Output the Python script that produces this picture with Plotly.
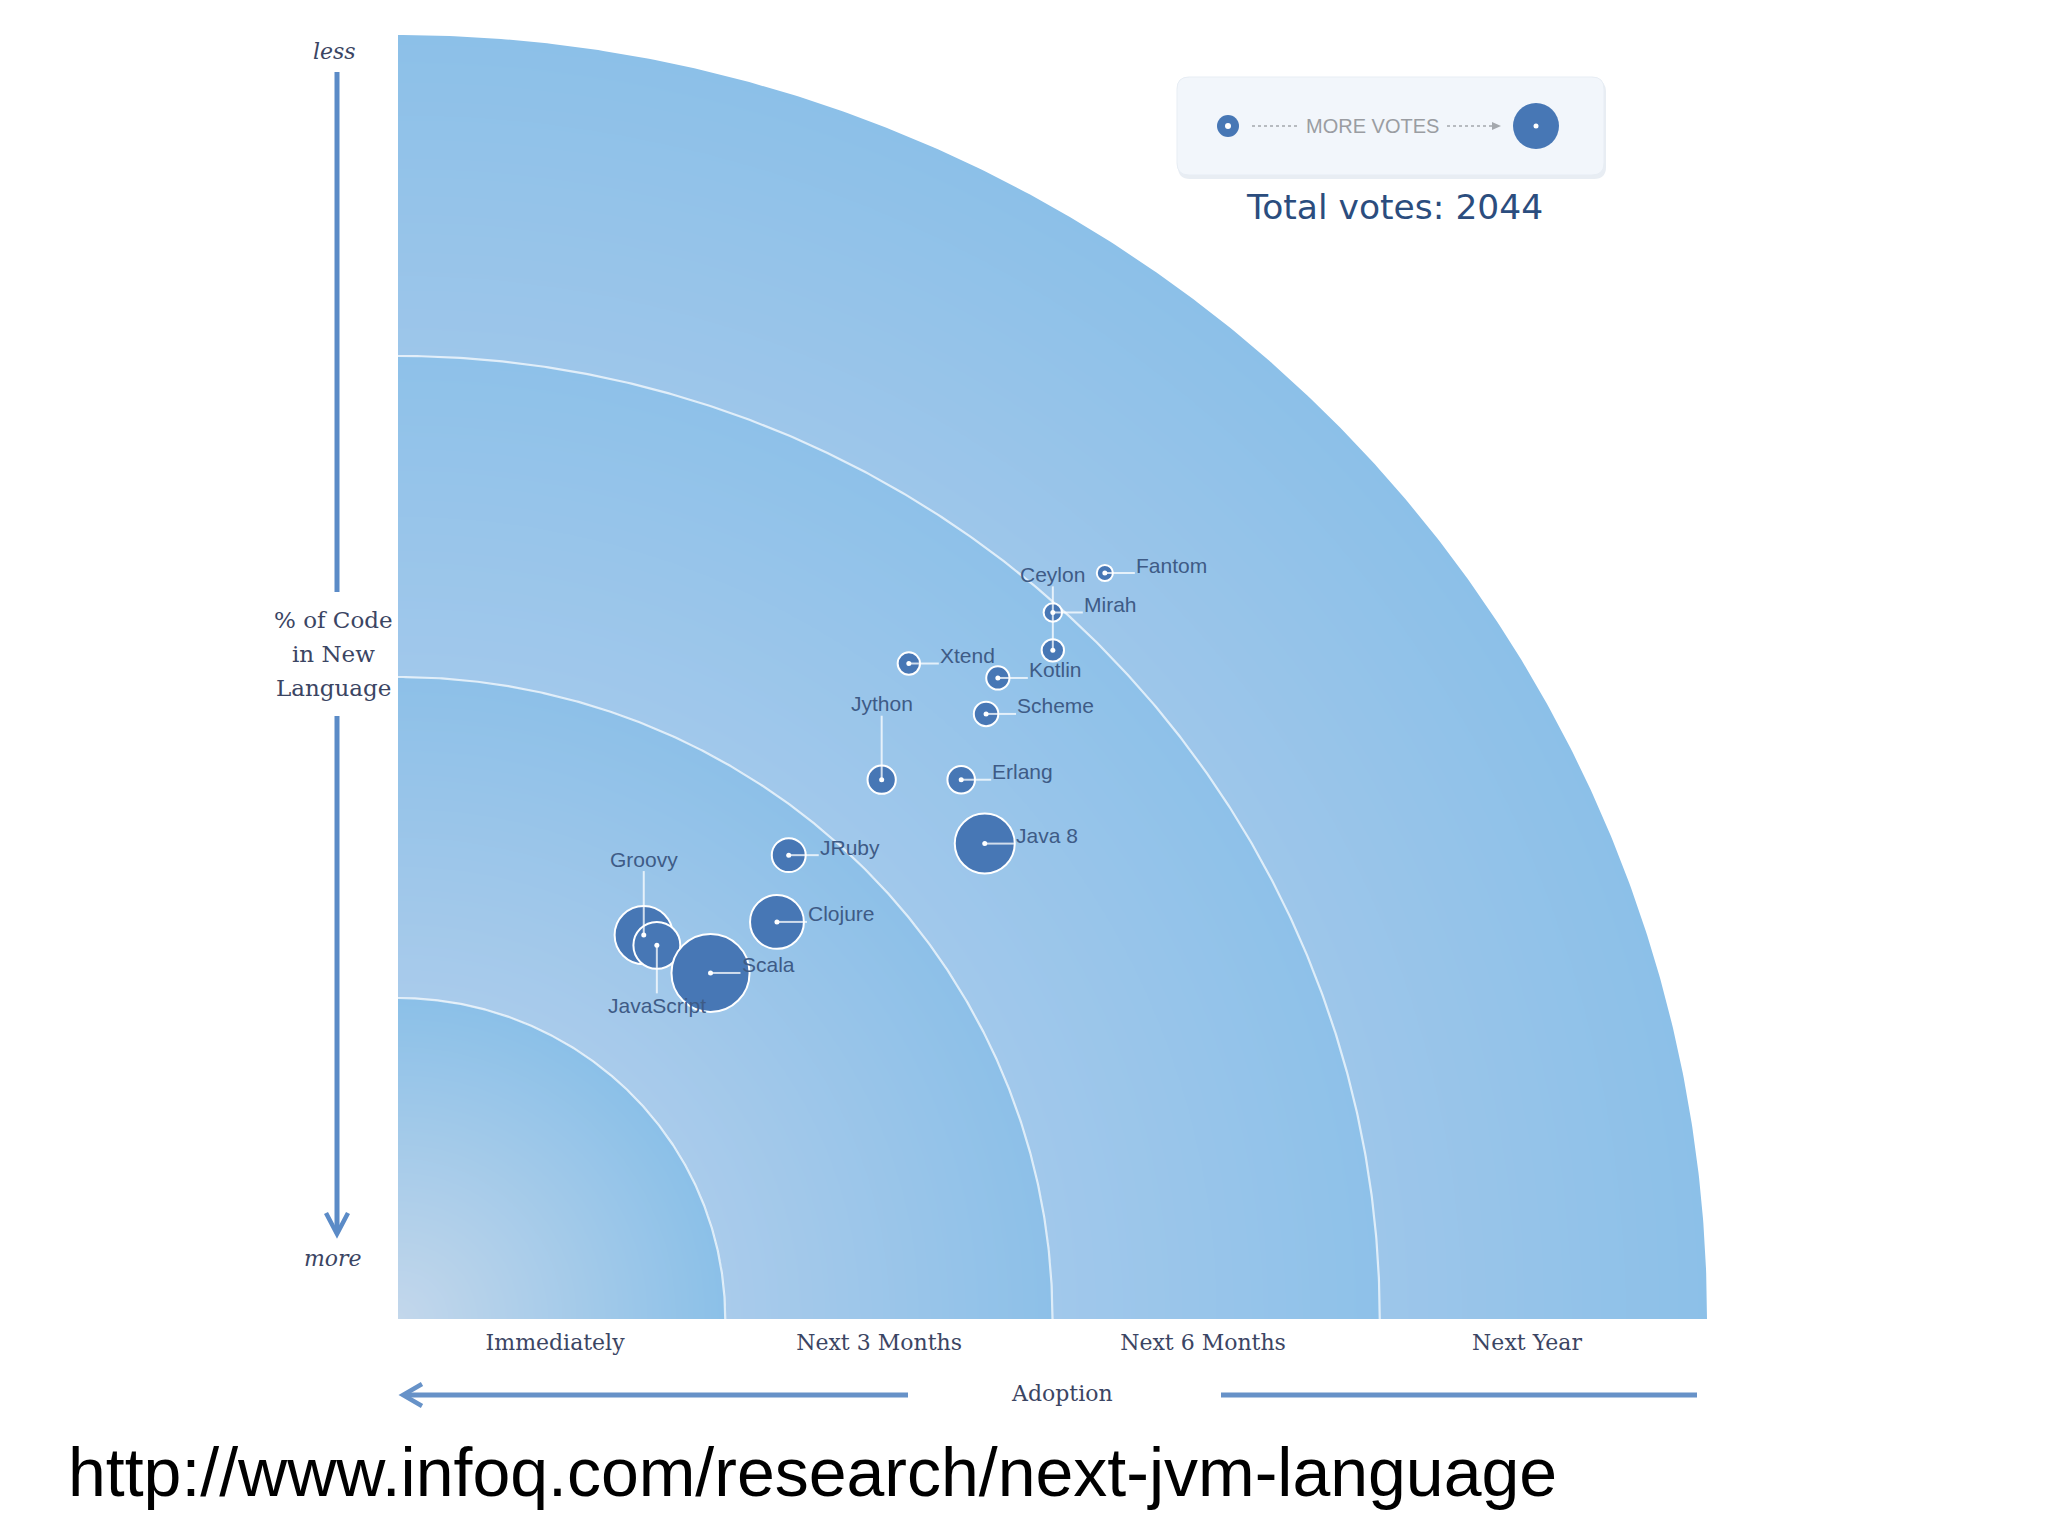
import numpy as np
import plotly.graph_objects as go

# ---------------- data ----------------
languages = ["Groovy", "JavaScript", "Scala", "Clojure", "JRuby", "Java 8", "Jython",
             "Erlang", "Scheme", "Kotlin", "Xtend", "Ceylon", "Mirah", "Fantom"]
# adoption position (0 = immediately ... 4 = next year, band units)
adoption = [0.751, 0.791, 0.955, 1.158, 1.194, 1.793, 1.478,
            1.721, 1.797, 1.833, 1.561, 2.001, 2.001, 2.160]
# code-share position (0 = more ... 4 = less, band units)
code_share = [1.196, 1.164, 1.078, 1.237, 1.445, 1.481, 1.680,
              1.680, 1.885, 1.997, 2.042, 2.083, 2.201, 2.324]
votes = [340, 220, 610, 290, 115, 360, 80, 76, 60, 54, 50, 50, 34, 26]
label_side = ["above", "below", "right", "right", "right", "right", "above",
              "right", "right", "right", "right", "above", "right", "right"]
adoption_labels = ["Immediately", "Next 3 Months", "Next 6 Months", "Next Year"]
y_title_lines = ["% of Code", "in New", "Language"]
total_votes = 2044

# ---------------- layout geometry (page pixels) ----------------
OFF = 8                      # default body margin of the html page
W, H = 2048 - 2 * OFF, 1536 - 2 * OFF
PL, PR, PT, PB = 398, 1707, 35, 1319


def px(xp):
    return (xp - PL) / (PR - PL)


def py(yp):
    return (PB - yp) / (PB - PT)


fig = go.Figure()

# background radial bands
inner = ["#c3d7eb", "#a9cbeb", "#a1c8eb", "#9dc6ea"]
outer = ["#8bc0e8", "#8dc0e8", "#8ec1e9", "#8cc0e8"]
cs = []
for k in range(4):
    cs.append([k / 4 + (1e-4 if k > 0 else 0), inner[k]])
    cs.append([(k + 1) / 4, outer[k]])

n = 500
g = np.linspace(0, 4, n)
gx, gy = np.meshgrid(g, g)
rr = np.sqrt(gx ** 2 + gy ** 2)
z = np.where(rr <= 4.03, rr / 4, np.nan)
z = np.clip(z, 0, 1)
fig.add_trace(go.Heatmap(x=g, y=g, z=z, colorscale=cs, zmin=0, zmax=1,
                         showscale=False, zsmooth="best", hoverinfo="skip"))

# white mask outside quarter circle
th = np.linspace(0, np.pi / 2, 400)
mx = np.concatenate([4 * np.cos(th), [0, 4.3, 4.3, 4]])
my = np.concatenate([4 * np.sin(th), [4.3, 4.3, 0, 0]])
fig.add_trace(go.Scatter(x=mx, y=my, mode="lines", fill="toself", fillcolor="white",
                         line=dict(width=0, color="white"), hoverinfo="skip",
                         showlegend=False))

# band arcs
for r in [1, 2, 3]:
    fig.add_trace(go.Scatter(x=r * np.cos(th), y=r * np.sin(th), mode="lines",
                             line=dict(color="rgba(255,255,255,0.7)", width=2.2),
                             hoverinfo="skip", showlegend=False))

# bubbles
fig.add_trace(go.Scatter(
    x=adoption, y=code_share, mode="markers", text=languages,
    marker=dict(size=votes, sizemode="area", sizeref=0.2, color="#4777b5",
                line=dict(color="white", width=2), opacity=1),
    hovertemplate="%{text}<extra></extra>", showlegend=False))

shapes = []
annotations = []

# leader lines + labels
for name, x, y, side in zip(languages, adoption, code_share, label_side):
    if side == "right":
        x0, x1, y0, y1 = 0, 30, 0, 0
        ann = dict(xanchor="left", yanchor="middle", xshift=29, yshift=8)
    elif side == "above":
        x0, x1, y0, y1 = 0, 0, 0, 64
        ann = dict(xanchor="center", yanchor="middle", xshift=0, yshift=76)
    else:
        x0, x1, y0, y1 = 0, 0, 0, -48
        ann = dict(xanchor="center", yanchor="middle", xshift=0, yshift=-60)
    shapes.append(dict(type="line", xref="x", yref="y", xsizemode="pixel",
                       ysizemode="pixel", xanchor=x, yanchor=y,
                       x0=x0, x1=x1, y0=y0, y1=y1, layer="above",
                       line=dict(color="rgba(255,255,255,0.75)", width=2)))
    annotations.append(dict(x=x, y=y, xref="x", yref="y", text=name, showarrow=False,
                            font=dict(family="Liberation Sans, Arial", size=21,
                                      color="#3e5b86"), **ann))

# center dots
fig.add_trace(go.Scatter(x=adoption, y=code_share, mode="markers",
                         marker=dict(size=5, color="white"), hoverinfo="skip",
                         showlegend=False))


def rounded_rect(x0, y0, x1, y1, r):
    pts = [
        f"M {px(x0 + r)},{py(y0)}",
        f"L {px(x1 - r)},{py(y0)}",
        f"Q {px(x1)},{py(y0)} {px(x1)},{py(y0 + r)}",
        f"L {px(x1)},{py(y1 - r)}",
        f"Q {px(x1)},{py(y1)} {px(x1 - r)},{py(y1)}",
        f"L {px(x0 + r)},{py(y1)}",
        f"Q {px(x0)},{py(y1)} {px(x0)},{py(y1 - r)}",
        f"L {px(x0)},{py(y0 + r)}",
        f"Q {px(x0)},{py(y0)} {px(x0 + r)},{py(y0)} Z",
    ]
    return " ".join(pts)


# legend box
shapes.append(dict(type="path", xref="paper", yref="paper", layer="above",
                   path=rounded_rect(1178, 80, 1606, 179, 12),
                   fillcolor="#e8edf3", line=dict(width=0)))
shapes.append(dict(type="path", xref="paper", yref="paper", layer="above",
                   path=rounded_rect(1177, 77, 1604, 175, 12),
                   fillcolor="#f2f6fb", line=dict(color="#e7edf4", width=1)))
for cx, rad, dot in [(1228, 11, 3), (1536, 23, 2.5)]:
    shapes.append(dict(type="circle", xref="paper", yref="paper", layer="above",
                       xsizemode="pixel", ysizemode="pixel",
                       xanchor=px(cx), yanchor=py(126),
                       x0=-rad, x1=rad, y0=-rad, y1=rad,
                       fillcolor="#4777b5", line=dict(width=0)))
    shapes.append(dict(type="circle", xref="paper", yref="paper", layer="above",
                       xsizemode="pixel", ysizemode="pixel",
                       xanchor=px(cx), yanchor=py(126),
                       x0=-dot, x1=dot, y0=-dot, y1=dot,
                       fillcolor="white", line=dict(width=0)))
for xa, xb in [(1252, 1297), (1447, 1494)]:
    shapes.append(dict(type="line", xref="paper", yref="paper", layer="above",
                       x0=px(xa), x1=px(xb), y0=py(126), y1=py(126),
                       line=dict(color="#a4a8ad", width=1.5, dash="dot")))
shapes.append(dict(type="path", xref="paper", yref="paper", layer="above",
                   path=f"M {px(1492)},{py(122)} L {px(1501)},{py(126)} L {px(1492)},{py(130)} Z",
                   fillcolor="#a4a8ad", line=dict(width=0)))

# vertical axis arrow
vcol = "#5b8bc7"
for ya, yb in [(72, 592), (716, 1232)]:
    shapes.append(dict(type="line", xref="paper", yref="paper", layer="above",
                       x0=px(337), x1=px(337), y0=py(ya), y1=py(yb),
                       line=dict(color=vcol, width=5)))
shapes.append(dict(type="path", xref="paper", yref="paper", layer="above",
                   path=f"M {px(326)},{py(1213)} L {px(337)},{py(1234)} L {px(348)},{py(1213)}",
                   line=dict(color=vcol, width=4.5)))

# horizontal axis arrow
hcol = "#6792c8"
for xa, xb in [(404, 908), (1221, 1697)]:
    shapes.append(dict(type="line", xref="paper", yref="paper", layer="above",
                       x0=px(xa), x1=px(xb), y0=py(1395), y1=py(1395),
                       line=dict(color=hcol, width=5)))
shapes.append(dict(type="path", xref="paper", yref="paper", layer="above",
                   path=f"M {px(422)},{py(1384)} L {px(403)},{py(1395)} L {px(422)},{py(1406)}",
                   line=dict(color=hcol, width=4.5)))

serif = "DejaVu Serif"
axis_txt = "#3b4563"


def txt(x, y, text, size, family, color, **kw):
    annotations.append(dict(x=px(x), y=py(y), xref="paper", yref="paper", text=text,
                            xanchor="center", yanchor="middle", showarrow=False,
                            font=dict(family=family, size=size, color=color), **kw))


txt(334, 51, "<i>less</i>", 22, serif, axis_txt)
txt(333, 1258, "<i>more</i>", 22, serif, axis_txt)
for i, line in enumerate(y_title_lines):
    txt(333, 620 + 34 * i, line, 23, serif, axis_txt)
txt(1062, 1393, "Adoption", 22, serif, axis_txt)
txt(1372, 126, "MORE VOTES", 20, "Liberation Sans, Arial", "#9a9da2")
txt(1394, 207, f"Total votes: {total_votes}", 34.5, "DejaVu Sans", "#2b4d7e")
txt(812, 1472, "http://www.infoq.com/research/next-jvm-language", 68,
    "Liberation Sans, Arial", "#000000")

fig.update_layout(
    width=W, height=H,
    margin=dict(l=PL - OFF, r=(W + OFF) - PR, t=PT - OFF, b=(H + OFF) - PB, pad=0),
    paper_bgcolor="white", plot_bgcolor="white",
    showlegend=False,
    xaxis=dict(range=[0, 4], showgrid=False, zeroline=False, showline=False,
               tickvals=[0.48 + 0.99 * i for i in range(len(adoption_labels))],
               ticktext=adoption_labels, ticks="", ticklabelstandoff=8,
               tickfont=dict(family=serif, size=22, color=axis_txt), fixedrange=True),
    yaxis=dict(range=[0, 4], visible=False, fixedrange=True),
    shapes=shapes,
    annotations=annotations,
)

fig.write_html("out.html")
